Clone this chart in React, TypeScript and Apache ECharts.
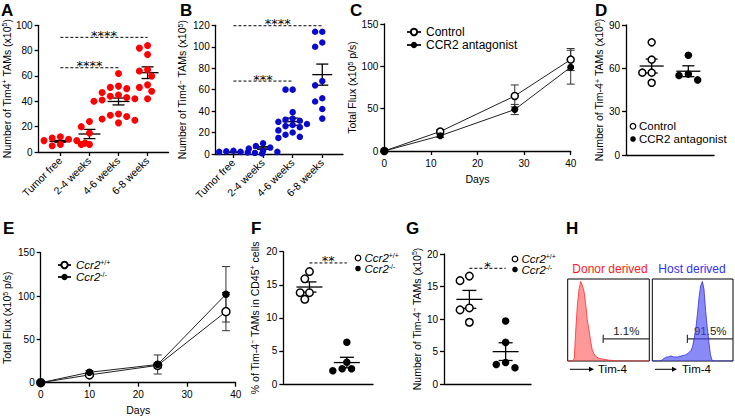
import React, { useEffect, useRef } from 'react';
import * as echarts from 'echarts';

const FONT = 'Arial, "Liberation Sans", Helvetica, sans-serif';

// ---------- Panel A : Tim4+ TAMs ----------
const categoriesAB = ['Tumor free', '2-4 weeks', '4-6 weeks', '6-8 weeks'];
const aTumorFree = [12, 11, 10, 9, 9, 8, 7, 7, 6, 5];
const a2to4 = [24, 20, 15, 6, 6];
const a4to6 = [62, 52, 51, 50, 47, 45, 44, 43, 42, 41, 40, 30, 29, 28, 26, 25, 23];
const a6to8 = [84, 82, 77, 65, 64, 60, 53, 51, 48, 42];
const aSig: [number, number, number][] = [[0, 3, 90.5], [0, 2, 66.5]];
const aSigLabels = ['****', '****'];

// ---------- Panel B : Tim4- TAMs ----------
const bTumorFree = [3, 2.5, 2, 2, 1.5, 1.5, 1, 1, 0.5, 0.5];
const b2to4 = [10, 7.5, 6, 5, 3, 2];
const b4to6 = [60, 60, 39, 33, 32, 31, 30, 28, 27, 26, 25, 22, 20, 18, 16, 15];
const b6to8 = [114, 114, 104, 100, 68, 64, 52, 49, 42, 33];
const bSig: [number, number, number][] = [[0, 3, 119.6], [0, 2, 68]];
const bSigLabels = ['****', '***'];

// ---------- Panel C : Total flux, CCR2 antagonist ----------
const cDays = [0, 12, 28, 40];
const cControl = [0, 23, 65, 108];
const cControlErr = [0, 2, 13, 13];
const cAntagonist = [0, 18, 49, 99];
const cAntagonistErr = [0, 2, 6, 20];

// ---------- Panel D ----------
const dControl = [78, 66, 57, 57, 50];
const dAntagonist = [69, 56, 55, 52];

// ---------- Panel E : Total flux, Ccr2 ----------
const eDays = [0, 10, 24, 38];
const eWT = [0, 9, 20, 82];
const eWTErr = [0, 1.5, 3, 22];
const eKO = [0, 12, 21, 102];
const eKOErr = [0, 2, 11, 32];

// ---------- Panel F ----------
const fWT = [17, 15.9, 13.8, 13.8, 12.8];
const fKO = [6.3, 3.3, 2.3, 2.3, 2.0];
const fSig: [number, number, number][] = [[1, 2, 18.3]];
const fSigLabels = ['**'];

// ---------- Panel G ----------
const gWT = [16.6, 15.9, 11.7, 11.4, 9.5];
const gKO = [9.7, 6.4, 3.3, 3.0, 2.5];
const gSig: [number, number, number][] = [[1, 2, 17.8]];
const gSigLabels = ['*'];

// ---------- Panel H : histograms (bins of 2 on a 0-100 scale) ----------
const hDonor = [0, 0, 0, 0, 3, 40, 70, 88, 97, 92, 85, 70, 50, 38, 25, 14, 9, 6, 4.5, 3.5, 3, 2.5, 2, 2, 1.5, 1, 1, 0.8, 0.5, 0.3, 0,
  0, 0, 0, 0, 0, 0, 0, 0, 0, 0, 0, 0, 0, 0, 0, 0, 0, 0, 0, 0];
const hHost = [0, 0, 0, 0, 0, 0, 1, 3, 4, 5, 5, 6, 6, 5, 5, 5, 5, 6, 6, 7, 7, 8, 9, 11, 13, 18, 28, 40, 58, 78, 92, 97, 88, 62, 42, 24, 8, 1,
  0, 0, 0, 0, 0, 0, 0, 0, 0, 0, 0, 0, 0];
const hGate: [number, number][] = [[43.5, 27]];
const hDonorPct = ['1.1%'];
const hHostPct = ['91.5%'];

// ---------- layout ----------
const GA = { left: 37.5, top: 25.3, width: 131, height: 126.7 };
const GB = { left: 215.7, top: 25.3, width: 127.3, height: 128.7 };
const GC = { left: 384.3, top: 24, width: 186.4, height: 127 };
const GD = { left: 626, top: 25, width: 88, height: 130 };
const GE = { left: 40.7, top: 252.7, width: 195, height: 130 };
const GF = { left: 283.3, top: 251.7, width: 89.7, height: 132.3 };
const GG = { left: 444, top: 254, width: 87, height: 130 };
const GH1 = { left: 567.7, top: 279, width: 81.6, height: 82 };
const GH2 = { left: 652.3, top: 279, width: 80.7, height: 82 };

function swarm(vals: number[], center: number, pxY: number, pxX: number, d: number): number[][] {
  const idx = vals.map((_, i) => i).sort((a, b) => vals[b] - vals[a]);
  const placed: [number, number][] = [];
  const res: number[][] = [];
  const steps = [0];
  for (let k = 1; k < 14; k++) steps.push(-k * d * 0.55, k * d * 0.55);
  for (const i of idx) {
    const y = vals[i] * pxY;
    let off = 0;
    for (const s of steps) {
      if (placed.every(([px, py]) => Math.hypot(px - s, py - y) >= d * 0.92)) { off = s; break; }
    }
    placed.push([off, y]);
    res.push([center + off / pxX, vals[i]]);
  }
  return res;
}

function meanSem(vals: number[]): [number, number] {
  const n = vals.length;
  const m = vals.reduce((a, b) => a + b, 0) / n;
  const sd = Math.sqrt(vals.reduce((a, b) => a + (b - m) * (b - m), 0) / (n - 1));
  return [m, sd / Math.sqrt(n)];
}

const axLine = { color: '#000', width: 1.3 };
const supRich = { s: { fontSize: 7, fontFamily: FONT, color: '#000', verticalAlign: 'top' } };

function yAx(grid: number, min: number, max: number, interval: number, name: string, nameGap: number) {
  return {
    type: 'value', gridIndex: grid, min, max, interval,
    axisLine: { show: true, onZero: false, lineStyle: axLine },
    axisTick: { show: true, length: 4, lineStyle: axLine },
    axisLabel: { color: '#000', fontSize: 10, fontFamily: FONT, margin: 6 },
    splitLine: { show: false },
    name, nameLocation: 'middle', nameGap,
    nameTextStyle: { color: '#000', fontSize: 10.5, fontFamily: FONT, rich: supRich },
  };
}

function xCat(grid: number, min: number, max: number) {
  return {
    type: 'value', gridIndex: grid, min, max,
    axisLine: { show: true, onZero: false, lineStyle: axLine },
    axisTick: { show: true, length: 4, lineStyle: axLine, customValues: [0, 1, 2, 3] },
    axisLabel: {
      color: '#000', fontSize: 10.5, fontFamily: FONT, margin: 7, rotate: 45,
      customValues: [0, 1, 2, 3],
      formatter: (v: number) => categoriesAB[Math.round(v)] ?? '',
    },
    splitLine: { show: false },
  };
}

function xDays(grid: number) {
  return {
    type: 'value', gridIndex: grid, min: 0, max: 40, interval: 10,
    axisLine: { show: true, onZero: false, lineStyle: axLine },
    axisTick: { show: true, length: 4, lineStyle: axLine },
    axisLabel: { color: '#000', fontSize: 10, fontFamily: FONT, margin: 7 },
    splitLine: { show: false },
    name: 'Days', nameLocation: 'middle', nameGap: 22,
    nameTextStyle: { color: '#000', fontSize: 10.5, fontFamily: FONT },
  };
}

function xPlain(grid: number) {
  return {
    type: 'value', gridIndex: grid, min: 0.3, max: 2.7,
    axisLine: { show: true, onZero: false, lineStyle: axLine },
    axisTick: { show: false }, axisLabel: { show: false }, splitLine: { show: false },
  };
}

function hidden(grid: number) {
  return { type: 'value', gridIndex: grid, min: 0, max: 100, show: false, splitLine: { show: false } };
}

const meanSemItem = (hw: number, cw: number) => (params: any, api: any) => {
  const x = api.value(0), m = api.value(1), s = api.value(2);
  const c = api.coord([x, m]);
  const t = api.coord([x, m + s]);
  const b = api.coord([x, m - s]);
  const st = { stroke: '#000', lineWidth: 1.3 };
  return {
    type: 'group', children: [
      { type: 'line', shape: { x1: c[0] - hw, y1: c[1], x2: c[0] + hw, y2: c[1] }, style: st },
      { type: 'line', shape: { x1: c[0], y1: t[1], x2: c[0], y2: b[1] }, style: st },
      { type: 'line', shape: { x1: c[0] - cw, y1: t[1], x2: c[0] + cw, y2: t[1] }, style: st },
      { type: 'line', shape: { x1: c[0] - cw, y1: b[1], x2: c[0] + cw, y2: b[1] }, style: st },
    ],
  };
};

const sigItem = (labels: string[]) => (params: any, api: any) => {
  const x1 = api.value(0), x2 = api.value(1), y = api.value(2);
  const p1 = api.coord([x1, y]);
  const p2 = api.coord([x2, y]);
  return {
    type: 'group', children: [
      { type: 'line', shape: { x1: p1[0], y1: p1[1], x2: p2[0], y2: p2[1] }, style: { stroke: '#000', lineWidth: 1, lineDash: [3, 2] } },
      {
        type: 'text', x: (p1[0] + p2[0]) / 2, y: p1[1] - 2,
        style: { text: labels[params.dataIndex], textAlign: 'center', textVerticalAlign: 'middle', fontSize: 13, fontFamily: '"DejaVu Sans"', fill: '#000' },
      },
    ],
  };
};

const errItem = (cw: number) => (params: any, api: any) => {
  const x = api.value(0), y = api.value(1), e = api.value(2);
  if (!e) return { type: 'group', children: [] };
  const t = api.coord([x, y + e]);
  const b = api.coord([x, y - e]);
  const st = { stroke: '#333', lineWidth: 1 };
  return {
    type: 'group', children: [
      { type: 'line', shape: { x1: t[0], y1: t[1], x2: b[0], y2: b[1] }, style: st },
      { type: 'line', shape: { x1: t[0] - cw, y1: t[1], x2: t[0] + cw, y2: t[1] }, style: st },
      { type: 'line', shape: { x1: b[0] - cw, y1: b[1], x2: b[0] + cw, y2: b[1] }, style: st },
    ],
  };
};

const gateItem = (labels: string[]) => (params: any, api: any) => {
  const gx = api.value(0), gy = api.value(1);
  const a = api.coord([gx, gy]);
  const b = api.coord([100, gy]);
  const t1 = api.coord([gx, gy + 5]);
  const t2 = api.coord([gx, gy - 5]);
  const lp = api.coord([(gx + 100) / 2, gy + 10]);
  const st = { stroke: '#333', lineWidth: 1.2 };
  return {
    type: 'group', children: [
      { type: 'line', shape: { x1: a[0], y1: a[1], x2: b[0], y2: b[1] }, style: st },
      { type: 'line', shape: { x1: t1[0], y1: t1[1], x2: t2[0], y2: t2[1] }, style: st },
      {
        type: 'text', x: lp[0], y: lp[1],
        style: { text: labels[params.dataIndex], textAlign: 'center', textVerticalAlign: 'middle', fontSize: 11.5, fontFamily: FONT, fill: '#222' },
      },
    ],
  };
};

function pxY(g: { height: number }, range: number) { return g.height / range; }

function buildOption() {
  const aPxX = GA.width / (3.72 + 0.75);
  const bPxX = GB.width / (3.7 + 0.6);
  const aGroups = [aTumorFree, a2to4, a4to6, a6to8];
  const bGroups = [bTumorFree, b2to4, b4to6, b6to8];
  const aPts = aGroups.flatMap((g, i) => swarm(g, i, pxY(GA, 100), aPxX, 7.5));
  const bPts = bGroups.flatMap((g, i) => swarm(g, i, pxY(GB, 120), bPxX, 6.5));
  const aMS = aGroups.map((g, i) => [i, ...meanSem(g)]);
  const bMS = bGroups.map((g, i) => [i, ...meanSem(g)]);

  const dPx = GD.width / 2.4, fPx = GF.width / 2.4, gPx = GG.width / 2.4;

  const openItem = { color: '#fff', borderColor: '#000', borderWidth: 1.5, opacity: 1 };
  const fillItem = { color: '#000', opacity: 1 };

  const series: any[] = [
    // A
    { type: 'scatter', xAxisIndex: 0, yAxisIndex: 0, data: aPts, symbolSize: 7, itemStyle: { color: '#ff0000', opacity: 1 } },
    { type: 'custom', xAxisIndex: 0, yAxisIndex: 0, data: aMS, renderItem: meanSemItem(11, 6) },
    { type: 'custom', xAxisIndex: 0, yAxisIndex: 0, data: aSig, encode: { x: [0, 1], y: 2 }, renderItem: sigItem(aSigLabels) },
    // B
    { type: 'scatter', xAxisIndex: 1, yAxisIndex: 1, data: bPts, symbolSize: 6.5, itemStyle: { color: '#0a0acc', opacity: 1 } },
    { type: 'custom', xAxisIndex: 1, yAxisIndex: 1, data: bMS, renderItem: meanSemItem(10, 6) },
    { type: 'custom', xAxisIndex: 1, yAxisIndex: 1, data: bSig, encode: { x: [0, 1], y: 2 }, renderItem: sigItem(bSigLabels) },
    // C
    {
      type: 'custom', xAxisIndex: 2, yAxisIndex: 2, renderItem: errItem(4),
      data: cDays.map((d, i) => [d, cControl[i], cControlErr[i]]).concat(cDays.map((d, i) => [d, cAntagonist[i], cAntagonistErr[i]])),
    },
    {
      name: 'Control', type: 'line', xAxisIndex: 2, yAxisIndex: 2, data: cDays.map((d, i) => [d, cControl[i]]),
      symbol: 'circle', symbolSize: 7, itemStyle: openItem, lineStyle: { color: '#222', width: 1 },
    },
    {
      name: 'CCR2 antagonist', type: 'line', xAxisIndex: 2, yAxisIndex: 2, data: cDays.map((d, i) => [d, cAntagonist[i]]),
      symbol: 'circle', symbolSize: 7, itemStyle: fillItem, lineStyle: { color: '#222', width: 1 },
    },
    // D
    { type: 'scatter', xAxisIndex: 3, yAxisIndex: 3, data: swarm(dControl, 1, pxY(GD, 90), dPx, 8.5), symbolSize: 7, itemStyle: openItem },
    { type: 'scatter', xAxisIndex: 3, yAxisIndex: 3, data: swarm(dAntagonist, 2, pxY(GD, 90), dPx, 8.5), symbolSize: 7.5, itemStyle: fillItem },
    { type: 'custom', xAxisIndex: 3, yAxisIndex: 3, data: [[1, ...meanSem(dControl)], [2, ...meanSem(dAntagonist)]], renderItem: meanSemItem(12, 6) },
    // E
    {
      type: 'custom', xAxisIndex: 4, yAxisIndex: 4, renderItem: errItem(4),
      data: eDays.map((d, i) => [d, eWT[i], eWTErr[i]]).concat(eDays.map((d, i) => [d, eKO[i], eKOErr[i]])),
    },
    {
      name: 'Ccr2+/+', type: 'line', xAxisIndex: 4, yAxisIndex: 4, data: eDays.map((d, i) => [d, eWT[i]]),
      symbol: 'circle', symbolSize: 8, itemStyle: openItem, lineStyle: { color: '#222', width: 1 },
    },
    {
      name: 'Ccr2-/-', type: 'line', xAxisIndex: 4, yAxisIndex: 4, data: eDays.map((d, i) => [d, eKO[i]]),
      symbol: 'circle', symbolSize: 7.5, itemStyle: fillItem, lineStyle: { color: '#222', width: 1 },
    },
    // F
    { type: 'scatter', xAxisIndex: 5, yAxisIndex: 5, data: swarm(fWT, 1, pxY(GF, 20), fPx, 8.5), symbolSize: 7.5, itemStyle: openItem },
    { type: 'scatter', xAxisIndex: 5, yAxisIndex: 5, data: swarm(fKO, 2, pxY(GF, 20), fPx, 8.5), symbolSize: 7.5, itemStyle: fillItem },
    { type: 'custom', xAxisIndex: 5, yAxisIndex: 5, data: [[1, ...meanSem(fWT)], [2, ...meanSem(fKO)]], renderItem: meanSemItem(13, 7) },
    { type: 'custom', xAxisIndex: 5, yAxisIndex: 5, data: fSig, encode: { x: [0, 1], y: 2 }, renderItem: sigItem(fSigLabels) },
    // G
    { type: 'scatter', xAxisIndex: 6, yAxisIndex: 6, data: swarm(gWT, 1, pxY(GG, 20), gPx, 8.5), symbolSize: 7.5, itemStyle: openItem },
    { type: 'scatter', xAxisIndex: 6, yAxisIndex: 6, data: swarm(gKO, 2, pxY(GG, 20), gPx, 8.5), symbolSize: 7.5, itemStyle: fillItem },
    { type: 'custom', xAxisIndex: 6, yAxisIndex: 6, data: [[1, ...meanSem(gWT)], [2, ...meanSem(gKO)]], renderItem: meanSemItem(13, 7) },
    { type: 'custom', xAxisIndex: 6, yAxisIndex: 6, data: gSig, encode: { x: [0, 1], y: 2 }, renderItem: sigItem(gSigLabels) },
    // H
    {
      type: 'line', xAxisIndex: 7, yAxisIndex: 7, data: hDonor.map((v, i) => [i * 2, v]), symbol: 'none',
      lineStyle: { color: '#ff2a2a', width: 0.8 }, areaStyle: { color: 'rgba(255,60,60,0.75)' },
    },
    { type: 'custom', xAxisIndex: 7, yAxisIndex: 7, data: hGate, renderItem: gateItem(hDonorPct) },
    {
      type: 'line', xAxisIndex: 8, yAxisIndex: 8, data: hHost.map((v, i) => [i * 2, v]), symbol: 'none',
      lineStyle: { color: '#3030e0', width: 0.8 }, areaStyle: { color: 'rgba(70,70,240,0.9)' },
    },
    { type: 'custom', xAxisIndex: 8, yAxisIndex: 8, data: hGate, renderItem: gateItem(hHostPct) },
  ];

  const letters: [string, number, number][] = [
    ['A', 1, 2], ['B', 180, 2], ['C', 350, 2], ['D', 595, 2],
    ['E', 3, 220], ['F', 251, 220], ['G', 406, 220], ['H', 566, 220],
  ];

  const txt = (text: string, x: number, y: number, extra: any = {}) => ({
    type: 'text', x, y, silent: true,
    style: { text, fill: '#000', fontSize: 12, fontFamily: FONT, textAlign: 'left', textVerticalAlign: 'middle', ...extra },
  });
  const dot = (x: number, y: number, open: boolean) => ({
    type: 'circle', shape: { cx: x, cy: y, r: 2.8 }, silent: true,
    style: open ? { fill: '#fff', stroke: '#000', lineWidth: 1.2 } : { fill: '#000' },
  });
  const ccrRich = {
    i: { fontStyle: 'italic', fontSize: 11.5, fontFamily: FONT, fill: '#000', color: '#000' },
    s: { fontSize: 7, fontFamily: FONT, fill: '#000', color: '#000', verticalAlign: 'top' },
  };
  const arrow = (x1: number, x2: number, y: number) => [
    { type: 'line', shape: { x1, y1: y, x2, y2: y }, style: { stroke: '#000', lineWidth: 1 }, silent: true },
    { type: 'polygon', shape: { points: [[x2, y - 2.5], [x2 + 5, y], [x2, y + 2.5]] }, style: { fill: '#000' }, silent: true },
  ];

  const graphic: any[] = [
    ...letters.map(([t, x, y]) => ({
      type: 'text', x, y, silent: true,
      style: { text: t, fill: '#000', fontSize: 17, fontWeight: 'bold', fontFamily: FONT, textVerticalAlign: 'top' },
    })),
    // D legend
    dot(633, 126.3, true), dot(633, 139, false),
    txt('Control', 639, 126.3, { fontSize: 11.5, lineHeight: 12 }),
    txt('CCR2 antagonist', 639, 139, { fontSize: 11.5, lineHeight: 12 }),
    // F legend
    dot(358, 258, true), dot(358, 268.5, false),
    txt('{i|Ccr2}{s|+/+}', 364.5, 258, { rich: ccrRich }), txt('{i|Ccr2}{s|-/-}', 364.5, 268.5, { rich: ccrRich }),
    // G legend
    dot(515, 259, true), dot(515, 269.5, false),
    txt('{i|Ccr2}{s|+/+}', 521.5, 259, { rich: ccrRich }), txt('{i|Ccr2}{s|-/-}', 521.5, 269.5, { rich: ccrRich }),
    // H
    txt('Donor derived', 610, 269, { fill: '#ff1a1a', textAlign: 'center' }),
    txt('Host derived', 692, 269, { fill: '#2f2fff', textAlign: 'center' }),
    ...arrow(570, 589, 369.3), txt('Tim-4', 598, 369.3, { fontSize: 11.5 }),
    ...arrow(655, 672, 369.3), txt('Tim-4', 682, 369.3, { fontSize: 11.5 }),
  ];

  return {
    animation: false,
    backgroundColor: '#fff',
    textStyle: { fontFamily: FONT },
    grid: [GA, GB, GC, GD, GE, GF, GG, GH1, GH2].map((g, i) => ({
      ...g, containLabel: false,
      ...(i >= 7 ? { show: true, borderColor: '#000', borderWidth: 1, backgroundColor: 'transparent' } : {}),
    })),
    legend: [
      {
        orient: 'vertical', left: 401, top: 21, itemWidth: 14, itemHeight: 8, itemGap: 1,
        data: ['Control', 'CCR2 antagonist'], selectedMode: false,
        textStyle: { fontSize: 12, fontFamily: FONT, color: '#000' },
      },
      {
        orient: 'vertical', left: 52, top: 254, itemWidth: 13, itemHeight: 8, itemGap: 0,
        data: ['Ccr2+/+', 'Ccr2-/-'], selectedMode: false,
        formatter: (n: string) => (n === 'Ccr2+/+' ? '{i|Ccr2}{s|+/+}' : '{i|Ccr2}{s|-/-}'),
        textStyle: { fontSize: 11.5, fontFamily: FONT, color: '#000', rich: ccrRich },
      },
    ],
    xAxis: [
      xCat(0, -0.75, 3.72),
      xCat(1, -0.6, 3.7),
      xDays(2),
      xPlain(3),
      xDays(4),
      xPlain(5),
      xPlain(6),
      hidden(7),
      hidden(8),
    ],
    yAxis: [
      yAx(0, 0, 100, 20, 'Number of Tim4{s|+} TAMs (x10{s|5})', 24),
      yAx(1, 0, 120, 20, 'Number of Tim4{s|−} TAMs (x10{s|5})', 28),
      yAx(2, 0, 150, 50, 'Total Flux (x10{s|5} p/s)', 26),
      yAx(3, 0, 90, 30, 'Number of Tim-4{s|+} TAMs (x10{s|5})', 21),
      yAx(4, 0, 150, 50, 'Total Flux (x10{s|5} p/s)', 28),
      yAx(5, 0, 20, 5, '% of Tim-4{s|−} TAMs in CD45{s|+} cells', 23),
      yAx(6, 0, 20, 5, 'Number of Tim-4{s|−} TAMs (x10{s|5})', 22),
      hidden(7),
      hidden(8),
    ],
    series,
    graphic,
  };
}

export default function App() {
  const ref = useRef<HTMLDivElement>(null);
  useEffect(() => {
    if (!ref.current) return;
    const chart = echarts.init(ref.current, null, { renderer: 'svg' });
    chart.setOption(buildOption() as any);
    return () => chart.dispose();
  }, []);
  return (
    <div
      ref={ref}
      style={{ position: 'absolute', left: 0, top: 0, width: 735, height: 418, background: '#fff' }}
    />
  );
}
